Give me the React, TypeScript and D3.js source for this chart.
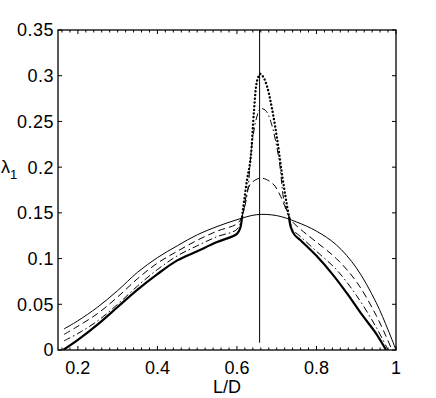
import React from "react";
import * as d3 from "d3";

const xTicks = [0.2, 0.4, 0.6, 0.8, 1];
const xTickLabels = ["0.2", "0.4", "0.6", "0.8", "1"];
const yTicks = [0, 0.05, 0.1, 0.15, 0.2, 0.25, 0.3, 0.35];
const yTickLabels = ["0", "0.05", "0.1", "0.15", "0.2", "0.25", "0.3", "0.35"];
const xMinor = [0.16,0.18,0.22,0.24,0.26,0.28,0.3,0.32,0.34,0.36,0.38,0.42,0.44,0.46,0.48,0.5,0.52,0.54,0.56,0.58,0.62,0.64,0.66,0.68,0.7,0.72,0.74,0.76,0.78,0.82,0.84,0.86,0.88,0.9,0.92,0.94,0.96,0.98];

const thinX = [0.165,0.2,0.25,0.3,0.35,0.4,0.45,0.5,0.55,0.6,0.65,0.7,0.75,0.8,0.85,0.9,0.95,0.98,1.0];
const thinY = [0.023,0.032,0.047,0.065,0.085,0.101,0.114,0.126,0.135,0.1425,0.148,0.147,0.140,0.130,0.115,0.090,0.052,0.022,0.0];

const dashX = [0.165,0.2,0.25,0.3,0.35,0.4,0.45,0.5,0.55,0.6,0.613,0.625,0.635,0.66,0.69,0.71,0.725,0.731,0.74,0.76,0.8,0.85,0.9,0.95,0.99];
const dashY = [0.017,0.026,0.040,0.058,0.078,0.095,0.108,0.120,0.130,0.138,0.146,0.172,0.182,0.188,0.182,0.168,0.152,0.146,0.140,0.132,0.118,0.100,0.075,0.038,0.0];

const dashDotX = [0.165,0.2,0.25,0.3,0.35,0.4,0.45,0.5,0.55,0.6,0.613,0.626,0.638,0.65,0.659,0.672,0.685,0.706,0.718,0.731,0.74,0.76,0.8,0.85,0.9,0.95,0.98];
const dashDotY = [0.010,0.018,0.032,0.050,0.070,0.088,0.103,0.114,0.124,0.132,0.146,0.171,0.226,0.255,0.264,0.262,0.250,0.208,0.164,0.146,0.132,0.124,0.108,0.088,0.060,0.025,0.0];

const thickX = [0.163,0.2,0.25,0.3,0.35,0.4,0.45,0.5,0.55,0.6,0.608,0.613,0.625,0.634,0.643,0.651,0.659,0.667,0.676,0.689,0.702,0.714,0.725,0.731,0.735,0.745,0.76,0.8,0.84,0.88,0.912,0.95,0.975];
const thickY = [0.0,0.011,0.028,0.047,0.066,0.083,0.098,0.108,0.118,0.127,0.133,0.146,0.185,0.208,0.262,0.295,0.302,0.298,0.288,0.262,0.228,0.190,0.160,0.146,0.135,0.126,0.120,0.103,0.083,0.060,0.040,0.018,0.0];

const peakRange = [0.613, 0.731];

const vLineX = 0.657;
const vLineY = [0.008, 0.35];

const W = 436, H = 398;
const L = 58, R = 396, T = 30, B = 350;

export default function App() {
  const x = d3.scaleLinear().domain([0.15, 1]).range([L, R]);
  const y = d3.scaleLinear().domain([0, 0.35]).range([B, T]);
  const line = d3.line<[number, number]>()
    .x(d => x(d[0]))
    .y(d => y(d[1]))
    .curve(d3.curveCatmullRom.alpha(0.5));
  const pts = (xs: number[], ys: number[]) => xs.map((v, i) => [v, ys[i]] as [number, number]);
  const mk = (xs: number[], ys: number[]) => line(pts(xs, ys)) || "";
  const thickPts = pts(thickX, thickY);
  const leftPart = thickPts.filter(p => p[0] <= peakRange[0]);
  const peakPart = thickPts.filter(p => p[0] >= peakRange[0] && p[0] <= peakRange[1]);
  const rightPart = thickPts.filter(p => p[0] >= peakRange[1]);
  const font = "'Liberation Sans', Arial, Helvetica, sans-serif";
  return (
    <svg width={W} height={H} style={{ position: "absolute", left: 0, top: 0, background: "#fff" }} fontFamily={font}>
      <defs>
        <clipPath id="pc"><rect x={L} y={T} width={R - L} height={B - T} /></clipPath>
      </defs>
      <g clipPath="url(#pc)" fill="none" stroke="#000">
        <path d={mk(thinX, thinY)} strokeWidth={1} />
        <path d={mk(dashX, dashY)} strokeWidth={1} strokeDasharray="7,4" />
        <path d={mk(dashDotX, dashDotY)} strokeWidth={1} strokeDasharray="7,3,1.5,3" />
        <path d={line(leftPart) || ""} strokeWidth={2.2} />
        <path d={line(rightPart) || ""} strokeWidth={2.2} />
        <path d={line(peakPart) || ""} strokeWidth={2.4} strokeDasharray="0.1,3.6" strokeLinecap="round" />
        <line x1={x(vLineX)} x2={x(vLineX)} y1={y(vLineY[0])} y2={y(vLineY[1])} strokeWidth={1} />
      </g>
      <g stroke="#000" strokeWidth={1}>
        {xMinor.map(t => (
          <g key={"m" + t}>
            <line x1={x(t)} x2={x(t)} y1={B} y2={B - 2.5} />
            <line x1={x(t)} x2={x(t)} y1={T} y2={T + 2.5} />
          </g>
        ))}
        {xTicks.map(t => (
          <g key={"x" + t}>
            <line x1={x(t)} x2={x(t)} y1={B} y2={B - 4} />
            <line x1={x(t)} x2={x(t)} y1={T} y2={T + 4} />
          </g>
        ))}
        {yTicks.map(t => (
          <g key={"y" + t}>
            <line x1={L} x2={L + 4} y1={y(t)} y2={y(t)} />
            <line x1={R} x2={R - 4} y1={y(t)} y2={y(t)} />
          </g>
        ))}
        <rect x={L} y={T} width={R - L} height={B - T} fill="none" strokeWidth={1.3} />
      </g>
      <g fontSize={18} fill="#000">
        {xTicks.map((t, i) => (
          <text key={"xl" + t} x={x(t)} y={B + 24} textAnchor="middle">{xTickLabels[i]}</text>
        ))}
        {yTicks.map((t, i) => (
          <text key={"yl" + t} x={L - 4} y={y(t)} dy="0.36em" textAnchor="end" letterSpacing={0.5}>{yTickLabels[i]}</text>
        ))}
        <text x={(L + R) / 2} y={393} textAnchor="middle">L/D</text>
        <text x={1} y={173} fontSize={18}>λ<tspan fontSize={13} dy={6}>1</tspan></text>
      </g>
    </svg>
  );
}
